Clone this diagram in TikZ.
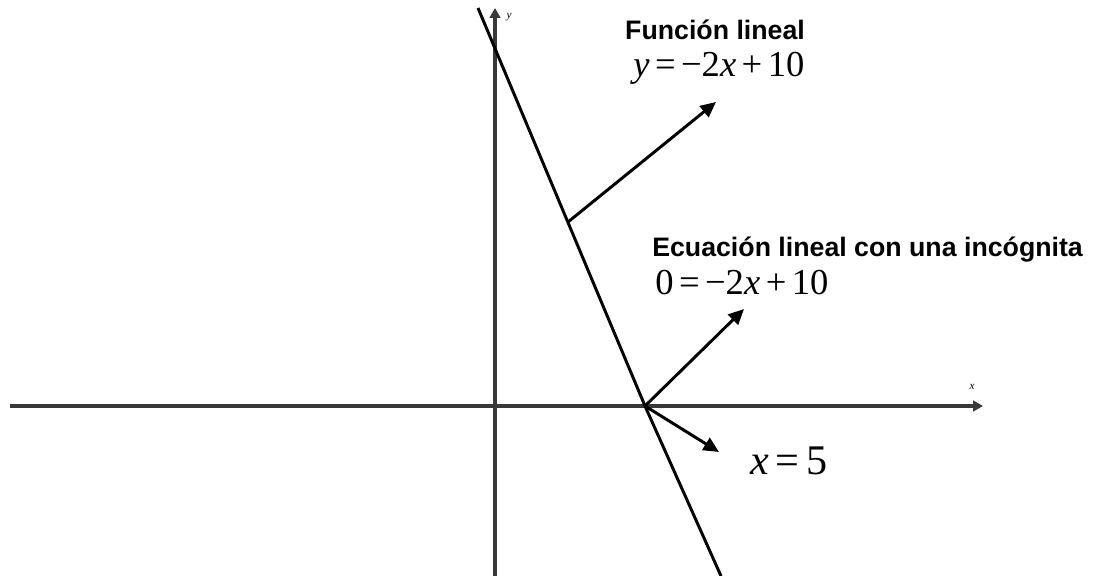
\documentclass[tikz,border=0pt]{standalone}
\usepackage{fontspec}
\setmainfont{Liberation Serif}
\newfontfamily\headfont{Liberation Sans}
\usetikzlibrary{
  arrows.meta,
  positioning,
  calc,
}

\newcommand{\gap}{\hspace{0.15em}}

\begin{document}
\begin{tikzpicture}[
  x=0.025cm, y=-0.025cm,
  axis/.style={line width=2.4pt, draw=black!78, -{Triangle[length=7pt,width=7.5pt]}},
  graph/.style={line width=2.1pt},
  pointer/.style={line width=2.1pt, -{Triangle[length=11pt,width=10pt]}},
  title/.style={font=\headfont\bfseries\fontsize{19}{22}\selectfont, inner sep=0pt},
  eqn/.style={font=\fontsize{26}{28}\selectfont, inner sep=0pt},
  axlabel/.style={font=\itshape\fontsize{8}{9}\selectfont, inner sep=0pt},
]
\useasboundingbox (0,0) rectangle (1100,576);

%% axes
\coordinate (xstart) at (10,406);
\coordinate (xend) at (983,406);
\coordinate (ystart) at (495,576);
\coordinate (yend) at (495,8);
\draw[axis] (xstart) -- (xend);
\draw[axis] (ystart) -- (yend);
\node[axlabel] (xlab) at (972,387) {x};
\node[axlabel] (ylab) at (509,17) {y};

%% the line y = -2x + 10
\coordinate (top) at (478,8);
\coordinate (root) at (645,406);
\coordinate (bot) at (721,576);
\draw[graph] (top) -- (root) -- (bot);
\coordinate (onl) at ($(top)!0.538!(root)$);

%% labels
\node[title] (func) at (715,30) {Función lineal};
\node[eqn, anchor=west] (funceq) at (633,68)
  {\textit{y}\gap=\gap−2\textit{x}\gap+\gap10};
\node[title, anchor=west] (ecu) at (652,250) {Ecuación lineal con una incógnita};
\node[eqn, anchor=west] (ecueq) at (655,283)
  {0\gap=\gap−2\textit{x}\gap+\gap10};
\node[eqn, anchor=west, font=\fontsize{30}{32}\selectfont] (sol) at (750,461)
  {\textit{x}\hspace{0.16em}=\hspace{0.16em}5};

%% pointers
\coordinate (tipfunc) at (716,102);
\coordinate (tipecu) at (744,309);
\coordinate (tipsol) at (719,452);
\draw[pointer] (onl) -- (tipfunc);
\draw[pointer] (root) -- (tipecu);
\draw[pointer] (root) -- (tipsol);

\end{tikzpicture}
\end{document}
